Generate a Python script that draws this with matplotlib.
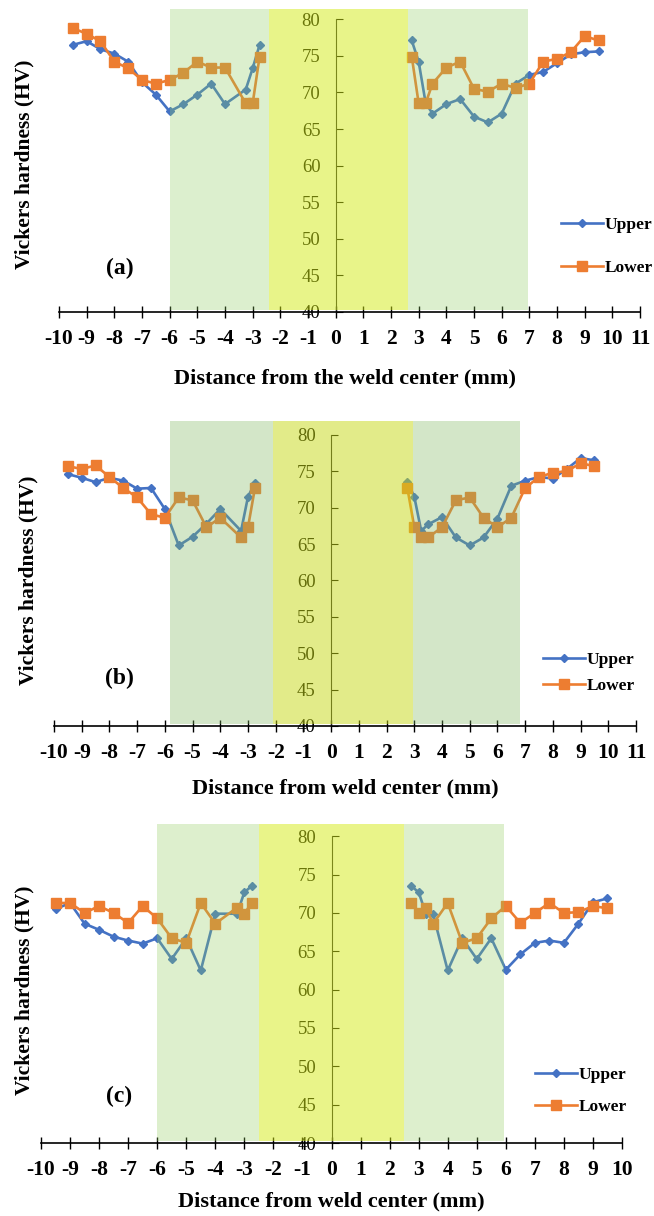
import matplotlib.pyplot as plt

plt.rcParams['font.family'] = ['Liberation Serif', 'DejaVu Serif']

# measuring positions (mm), same for every panel
x_left = [-9.5, -9, -8.5, -8, -7.5, -7, -6.5, -6, -5.5, -5, -4.5, -4, -3.25, -3, -2.75]
x_right = [2.75, 3, 3.25, 3.5, 4, 4.5, 5, 5.5, 6, 6.5, 7, 7.5, 8, 8.5, 9, 9.5]

# (a)
a_upper_left = [76.5, 77.0, 75.9, 75.3, 74.2, 71.4, 69.7, 67.4, 68.4, 69.7, 71.2, 68.4, 70.4, 73.3, 76.5]
a_upper_right = [77.1, 74.2, 68.6, 67.1, 68.4, 69.1, 66.7, 65.9, 67.1, 71.2, 72.4, 72.8, 74.0, 75.2, 75.5, 75.6]
a_lower_left = [78.8, 78.0, 77.0, 74.2, 73.3, 71.7, 71.2, 71.7, 72.7, 74.2, 73.4, 73.4, 68.5, 68.5, 74.9]
a_lower_right = [74.9, 68.5, 68.5, 71.2, 73.4, 74.2, 70.5, 70.1, 71.2, 70.6, 71.2, 74.2, 74.6, 75.5, 77.7, 77.1]

# (b)
b_upper_left = [74.6, 74.1, 73.5, 74.1, 73.7, 72.6, 72.7, 69.8, 64.8, 66.0, 67.8, 69.8, 66.8, 71.5, 73.4]
b_upper_right = [73.5, 71.5, 66.8, 67.7, 68.7, 65.9, 64.8, 65.9, 68.5, 73.0, 73.7, 74.2, 74.0, 75.3, 76.8, 76.5]
b_lower_left = [75.7, 75.3, 75.8, 74.2, 72.7, 71.4, 69.1, 68.6, 71.4, 71.0, 67.3, 68.6, 65.9, 67.3, 72.7]
b_lower_right = [72.7, 67.3, 65.9, 65.9, 67.3, 71.0, 71.4, 68.6, 67.3, 68.6, 72.7, 74.2, 74.8, 75.0, 76.1, 75.7]

# (c)
c_upper_left = [70.5, 71.3, 68.6, 67.8, 66.9, 66.4, 66.0, 66.7, 64.0, 66.7, 62.5, 69.9, 69.9, 72.7, 73.5]
c_upper_right = [73.5, 72.7, 69.9, 69.8, 62.5, 66.7, 64.0, 66.7, 62.6, 64.6, 66.1, 66.4, 66.1, 68.6, 71.4, 71.9]
c_lower_left = [71.3, 71.3, 70.0, 70.9, 70.0, 68.7, 70.9, 69.3, 66.7, 66.1, 71.3, 68.6, 70.7, 69.9, 71.3]
c_lower_right = [71.3, 70.0, 70.6, 68.6, 71.3, 66.1, 66.7, 69.3, 70.9, 68.7, 70.0, 71.3, 70.0, 70.1, 70.9, 70.6]

# zone limits (mm): green = HAZ, yellow = fusion zone
a_haz, a_fz = (-6.0, 6.95), (-2.4, 2.6)
b_haz, b_fz = (-5.8, 6.8), (-2.1, 2.95)
c_haz, c_fz = (-6.0, 5.95), (-2.5, 2.5)

yticks = [40, 45, 50, 55, 60, 65, 70, 75, 80]

blue = '#4472C4'
orange = '#ED7D31'

fig = plt.figure(figsize=(6.54, 12.16), dpi=100)
W, H = 654.0, 1216.0


def panel(px, xmax, ytop, up_l, up_r, lo_l, lo_r, haz, fz, green, yellow, tag,
          tag_pos, leg_pos, leg_space, xlabel, xlab_pos, ylab_pos):
    left, right, top, bottom = px
    ax = fig.add_axes([left / W, 1 - bottom / H, (right - left) / W, (bottom - top) / H])
    ax.set_xlim(-10, xmax)
    ax.set_ylim(40, ytop)

    ax.plot(x_left, up_l, color=blue, lw=1.9, marker='D', ms=4.5, zorder=2, label='Upper')
    ax.plot(x_right, up_r, color=blue, lw=1.9, marker='D', ms=4.5, zorder=2)
    ax.plot(x_left, lo_l, color=orange, lw=1.9, marker='s', ms=7, zorder=2, label='Lower')
    ax.plot(x_right, lo_r, color=orange, lw=1.9, marker='s', ms=7, zorder=2)

    # translucent zone overlays drawn above the data (as in the original)
    gc, ga = green
    yc, ya = yellow
    ax.axvspan(haz[0], fz[0], ymin=0.006, color=gc, alpha=ga, lw=0, zorder=3)
    ax.axvspan(fz[1], haz[1], ymin=0.006, color=gc, alpha=ga, lw=0, zorder=3)
    ax.axvspan(fz[0], fz[1], ymin=0.006, color=yc, alpha=ya, lw=0, zorder=3)

    for s in ['top', 'right']:
        ax.spines[s].set_visible(False)
    ax.spines['left'].set_position(('data', 0))
    ax.spines['left'].set_bounds(40, 80)
    ax.spines['left'].set_color('#222222')
    ax.spines['bottom'].set_linewidth(1.2)

    ax.set_yticks(yticks)
    ax.set_yticklabels([str(v) for v in yticks])
    ax.tick_params(axis='y', direction='in', length=5, labelsize=13.5, pad=11)

    xt = list(range(-10, xmax + 1))
    ax.set_xticks(xt)
    ax.set_xticklabels([str(v) for v in xt], fontweight='bold')
    ax.tick_params(axis='x', direction='inout', length=8, width=1, labelsize=15.5, pad=8)

    ax.text(tag_pos[0], tag_pos[1], tag, transform=ax.transAxes, ha='center', va='center',
            fontsize=17, fontweight='bold')

    ax.legend(loc='center left', bbox_to_anchor=leg_pos, frameon=False,
              prop={'weight': 'bold', 'size': 12.5}, handlelength=2.4, handletextpad=0.1,
              labelspacing=leg_space, borderpad=0, borderaxespad=0)

    fig.text(xlab_pos[0] / W, 1 - xlab_pos[1] / H, xlabel, ha='center', va='center',
             fontsize=16, fontweight='bold')
    fig.text(ylab_pos[0] / W, 1 - ylab_pos[1] / H, 'Vickers hardness (HV)', rotation=90,
             ha='center', va='center', fontsize=15.5, fontweight='bold')
    return ax


panel((59, 640, 9, 312), 11, 81.4, a_upper_left, a_upper_right, a_lower_left, a_lower_right,
      a_haz, a_fz, ('#8ecd5f', 0.3), ('#d3eb15', 0.5), '(a)', (0.105, 0.145),
      (0.864, 0.215), 1.55, 'Distance from the weld center (mm)', (345, 378), (24, 164))

panel((54, 636, 421, 726), 11, 81.9, b_upper_left, b_upper_right, b_lower_left, b_lower_right,
      b_haz, b_fz, ('#81b862', 0.35), ('#c7d915', 0.5), '(b)', (0.112, 0.157),
      (0.840, 0.174), 0.6, 'Distance from weld center (mm)', (345, 788), (28, 580))

panel((41, 622, 824, 1143), 10, 81.6, c_upper_left, c_upper_right, c_lower_left, c_lower_right,
      c_haz, c_fz, ('#91cd5c', 0.3), ('#d5eb15', 0.5), '(c)', (0.135, 0.147),
      (0.850, 0.163), 0.9, 'Distance from weld center (mm)', (331, 1201), (24, 990))

plt.savefig('out.png', dpi=100)
